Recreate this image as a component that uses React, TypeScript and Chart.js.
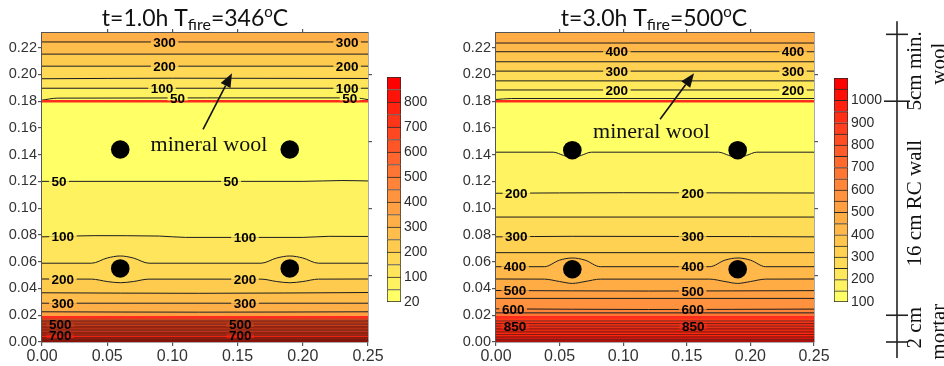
import React, { useEffect, useRef } from 'react';
import { Chart, registerables } from 'chart.js';

Chart.register(...registerables);

const SANS = '"Liberation Sans", Arial, sans-serif';
const SERIF = '"Liberation Serif", "Times New Roman", serif';
const TITLE_FONT = 'Lato, "Open Sans", sans-serif';

// ---------- axes ----------
const X_MAX = 0.25;
const Y_MAX = 0.231;
const xTicks = [0, 0.05, 0.1, 0.15, 0.2, 0.25];
const yTicks = [0, 0.02, 0.04, 0.06, 0.08, 0.1, 0.12, 0.14, 0.16, 0.18, 0.2, 0.22];
const sideTicksX = [0.05, 0.1, 0.15, 0.2];
const sideTicksY = [0.05, 0.1, 0.15, 0.2];

// ---------- rebars ----------
const rebarX = [0.06, 0.19, 0.06, 0.19];
const leftRebarY = [0.1439, 0.1439, 0.055, 0.055];
const rightRebarY = [0.1434, 0.1434, 0.0544, 0.0544];

// ---------- colour bars ----------
const leftCbLevels = [20, 50, 100, 150, 200, 250, 300, 350, 400, 450, 500, 550, 600, 650, 700, 750, 800, 850, 900];
const leftCbTicks = [20, 100, 200, 300, 400, 500, 600, 700, 800];
const rightCbLevels = [100, 150, 200, 250, 300, 350, 400, 450, 500, 550, 600, 650, 700, 750, 800, 850, 900, 950, 1000, 1050, 1100];
const rightCbTicks = [100, 200, 300, 400, 500, 600, 700, 800, 900, 1000];

// ---------- left panel (t = 1.0 h) contours, bottom -> top ----------
const leftLevels = [800, 750, 700, 650, 600, 550, 500, 450, 400, 350, 300, 250, 200, 150, 100, 50, 0, 50, 100, 150, 200, 250, 300];
const leftKinds = 'mmmmmmmmrcccccccrcccccc';
const leftLines: number[][][] = [
  [[0, 0.0018], [0.25, 0.0018]],
  [[0, 0.0033], [0.25, 0.0033]],
  [[0, 0.005], [0.25, 0.005]],
  [[0, 0.0068], [0.25, 0.0068]],
  [[0, 0.0088], [0.25, 0.0088]],
  [[0, 0.0113], [0.25, 0.0113]],
  [[0, 0.0133], [0.25, 0.0133]],
  [[0, 0.0158], [0.25, 0.0158]],
  [[0, 0.0185], [0.25, 0.0185]],
  [[0, 0.0226], [0.12, 0.0223], [0.25, 0.0226]],
  [[0, 0.029], [0.25, 0.029]],
  [[0, 0.0368], [0.12, 0.0364], [0.25, 0.037]],
  [[0, 0.0471], [0.038, 0.047], [0.05, 0.0452], [0.06, 0.0443], [0.07, 0.0452], [0.082, 0.047], [0.168, 0.047], [0.18, 0.0452], [0.19, 0.0443], [0.2, 0.0452], [0.212, 0.047], [0.25, 0.0471]],
  [[0, 0.0589], [0.038, 0.0589], [0.05, 0.0628], [0.06, 0.0643], [0.07, 0.0628], [0.082, 0.0589], [0.168, 0.0589], [0.18, 0.0628], [0.19, 0.0643], [0.2, 0.0628], [0.212, 0.0589], [0.25, 0.0589]],
  [[0, 0.0786], [0.04, 0.0795], [0.09, 0.0792], [0.11, 0.0782], [0.2, 0.0782], [0.22, 0.079], [0.25, 0.0789]],
  [[0, 0.1201], [0.2, 0.1201], [0.23, 0.1207], [0.25, 0.1204]],
  [[0, 0.18], [0.25, 0.18]],
  [[0, 0.1808], [0.012, 0.1823], [0.24, 0.1825], [0.25, 0.1812]],
  [[0, 0.1897], [0.25, 0.1897]],
  [[0, 0.1968], [0.1, 0.1972], [0.25, 0.197]],
  [[0, 0.2062], [0.25, 0.2062]],
  [[0, 0.2152], [0.25, 0.2152]],
  [[0, 0.2243], [0.25, 0.2243]],
];
const leftLabelX: (number[] | null)[] = [
  null, null, [0.014, 0.152], null, null, null, [0.014, 0.152], null, null, null,
  [0.016, 0.1557], null, [0.016, 0.1557], null, [0.016, 0.1557], [0.013, 0.145], null,
  [0.104, 0.236], [0.092, 0.234], null, [0.094, 0.234], null, [0.094, 0.234],
];
const leftBandT = [825, 775, 725, 675, 625, 575, 525, 475, 425, 375, 325, 275, 225, 175, 125, 75, 35, 35, 75, 125, 175, 225, 275, 325];
const leftMortarFill = ['#8a1208', '#9a1a0c', '#f0240e', '#a92a14', '#bc3218', '#ad3016', '#c23c1c', '#b33818', '#c9481e'];

// ---------- right panel (t = 3.0 h) contours, bottom -> top ----------
const rightLevels = [1100, 1050, 1000, 950, 900, 850, 800, 750, 700, 650, 600, 550, 500, 450, 400, 350, 300, 250, 200, 150, 0, 150, 200, 250, 300, 350, 400, 450];
const rightKinds = 'mmmmmmmmrcccccccccccrccccccc';
const rightLines: number[][][] = [
  [[0, 0.0018], [0.25, 0.0018]],
  [[0, 0.0038], [0.25, 0.0038]],
  [[0, 0.0056], [0.25, 0.0056]],
  [[0, 0.0075], [0.25, 0.0075]],
  [[0, 0.0098], [0.25, 0.0098]],
  [[0, 0.0118], [0.25, 0.0118]],
  [[0, 0.0138], [0.25, 0.0138]],
  [[0, 0.0158], [0.25, 0.0158]],
  [[0, 0.0185], [0.25, 0.0185]],
  [[0, 0.0218], [0.25, 0.0218]],
  [[0, 0.0248], [0.12, 0.0243], [0.25, 0.0246]],
  [[0, 0.0326], [0.25, 0.0326]],
  [[0, 0.0385], [0.12, 0.0381], [0.25, 0.0384]],
  [[0, 0.0471], [0.038, 0.047], [0.05, 0.0452], [0.06, 0.0438], [0.07, 0.0452], [0.082, 0.047], [0.168, 0.047], [0.18, 0.0452], [0.19, 0.0438], [0.2, 0.0452], [0.212, 0.047], [0.25, 0.0471]],
  [[0, 0.0563], [0.038, 0.0563], [0.05, 0.0612], [0.06, 0.0628], [0.07, 0.0612], [0.082, 0.0563], [0.168, 0.0563], [0.18, 0.0612], [0.19, 0.0628], [0.2, 0.0612], [0.212, 0.0563], [0.25, 0.0563]],
  [[0, 0.0668], [0.25, 0.0668]],
  [[0, 0.0786], [0.06, 0.079], [0.2, 0.0788], [0.25, 0.0786]],
  [[0, 0.0934], [0.25, 0.0934]],
  [[0, 0.1112], [0.1, 0.1116], [0.25, 0.1114]],
  [[0, 0.1419], [0.045, 0.1419], [0.053, 0.1395], [0.06, 0.1377], [0.067, 0.1395], [0.075, 0.1419], [0.175, 0.1419], [0.183, 0.1395], [0.19, 0.1377], [0.197, 0.1395], [0.205, 0.1419], [0.25, 0.1419]],
  [[0, 0.18], [0.25, 0.18]],
  [[0, 0.1813], [0.012, 0.182], [0.25, 0.182]],
  [[0, 0.1884], [0.25, 0.1884]],
  [[0, 0.1952], [0.25, 0.1952]],
  [[0, 0.2025], [0.25, 0.2025]],
  [[0, 0.2095], [0.25, 0.2095]],
  [[0, 0.217], [0.25, 0.217]],
  [[0, 0.2235], [0.25, 0.2235]],
];
const rightLabelX: (number[] | null)[] = [
  null, null, null, null, null, [0.015, 0.155], null, null, null, null,
  [0.0135, 0.1546], null, [0.015, 0.1546], null, [0.015, 0.1546], null, [0.016, 0.1546], null, [0.016, 0.1546], null, null,
  null, [0.095, 0.2335], null, [0.095, 0.2335], null, [0.095, 0.2335], null,
];
const rightBandT = [1125, 1075, 1025, 975, 925, 875, 825, 775, 725, 675, 625, 575, 525, 475, 425, 375, 325, 275, 225, 175, 125, 125, 175, 225, 275, 325, 375, 425, 475];
const rightMortarFill = ['#b01010', '#d41810', '#ff2410', '#f82a12', '#e42814', '#f02c16', '#ea3018', '#f53418', '#ff3c16'];

// ---------- side schematic ----------
const layerBounds = [0, 0.02, 0.18, 0.23];
const layerText1 = ['5cm min.', '16 cm RC wall', '2 cm'];
const layerText1Y = [0.2027, 0.1038, 0.0107];
const layerText2 = ['wool', 'mortar'];
const layerText2Y = [0.208, 0.0077];

type Note = { text: string; x: number; y: number; tail: number[]; tip: number[] };
type Panel = {
  levels: number[]; kinds: string; lines: number[][][]; labelX: (number[] | null)[];
  bandT: number[]; mortarFill: string[]; cbLevels: number[]; rebarY: number[];
  title: string[]; note: Note; schematic: boolean;
};

const leftPanel: Panel = {
  levels: leftLevels, kinds: leftKinds, lines: leftLines, labelX: leftLabelX,
  bandT: leftBandT, mortarFill: leftMortarFill, cbLevels: leftCbLevels, rebarY: leftRebarY,
  title: ['t=1.0h T', '=346'],
  note: { text: 'mineral wool', x: 0.128, y: 0.1426, tail: [0.1235, 0.159], tip: [0.1457, 0.201] },
  schematic: false,
};
const rightPanel: Panel = {
  levels: rightLevels, kinds: rightKinds, lines: rightLines, labelX: rightLabelX,
  bandT: rightBandT, mortarFill: rightMortarFill, cbLevels: rightCbLevels, rebarY: rightRebarY,
  title: ['t=3.0h T', '=500'],
  note: { text: 'mineral wool', x: 0.1222, y: 0.1527, tail: [0.129, 0.1665], tip: [0.1557, 0.201] },
  schematic: true,
};

// ---------- colour map ----------
const STOPS = [
  [0, 255, 255, 102],
  [0.25, 255, 200, 78],
  [0.5, 255, 140, 60],
  [0.75, 255, 75, 35],
  [1, 255, 0, 0],
];
function cmap(f: number): string {
  for (let i = 0; i < STOPS.length - 1; i++) {
    const a = STOPS[i], b = STOPS[i + 1];
    if (f <= b[0]) {
      const t = (f - a[0]) / (b[0] - a[0]);
      const c = [1, 2, 3].map((j) => Math.round(a[j] + (b[j] - a[j]) * t));
      return `rgb(${c[0]},${c[1]},${c[2]})`;
    }
  }
  return 'rgb(255,0,0)';
}
function bandColor(t: number, levels: number[]): string {
  const n = levels.length - 1;
  let i = 0;
  while (i < n - 1 && t >= levels[i + 1]) i++;
  return cmap(i / (n - 1));
}

function axis(pos: string, ticks: number[], size: number, showLabels: boolean, fontSize: number, max: number): any {
  return {
    type: 'linear', position: pos, min: 0, max,
    afterBuildTicks: (s: any) => { s.ticks = ticks.map((v) => ({ value: v })); },
    afterFit: (s: any) => { if (pos === 'left' || pos === 'right') s.width = size; else s.height = size; },
    ticks: {
      display: showLabels, autoSkip: false, maxRotation: 0, minRotation: 0, padding: 1, color: '#333',
      font: { family: SANS, size: fontSize },
      callback: (v: any) => Number(v).toFixed(2),
    },
    grid: { display: true, drawOnChartArea: false, drawTicks: true, tickLength: 4, tickColor: '#555', color: '#555', lineWidth: 1.2 },
    border: { display: true, color: '#555', width: 1.5 },
  };
}

function mainConfig(p: Panel, padRight: number, yWidth: number, titleX: number): any {
  const bandColors = p.bandT.map((t, k) => (k < p.mortarFill.length ? p.mortarFill[k] : bandColor(t, p.cbLevels)));
  const datasets: any[] = [
    { data: [{ x: 0, y: 0 }, { x: X_MAX, y: 0 }], borderWidth: 0, pointRadius: 0, fill: false },
  ];
  p.lines.forEach((pts, k) => {
    const kind = p.kinds[k];
    datasets.push({
      data: pts.map(([x, y]) => ({ x, y })),
      borderColor: kind === 'r' ? '#ff2b1c' : kind === 'm' ? 'rgba(105,18,8,0.85)' : '#1b1b1b',
      borderWidth: kind === 'r' ? 2.5 : 1,
      pointRadius: 0,
      cubicInterpolationMode: 'monotone',
      fill: '-1',
      backgroundColor: bandColors[k],
    });
  });
  datasets.push({
    data: [{ x: 0, y: Y_MAX }, { x: X_MAX, y: Y_MAX }], borderWidth: 0, pointRadius: 0,
    fill: '-1', backgroundColor: bandColors[p.lines.length],
  });
  datasets.push({
    data: rebarX.map((x, i) => ({ x, y: p.rebarY[i] })), showLine: false, pointRadius: 9.3,
    pointBackgroundColor: '#000', pointBorderWidth: 0, fill: false, order: -1,
  });

  const labelPlugin = {
    id: 'contourLabels',
    afterDatasetsDraw(chart: any) {
      const ctx = chart.ctx;
      const xs = chart.scales.x;
      ctx.save();
      ctx.font = `bold 13.5px ${SANS}`;
      ctx.textAlign = 'center';
      ctx.textBaseline = 'middle';
      p.labelX.forEach((arr, k) => {
        if (!arr) return;
        const pts = chart.getDatasetMeta(k + 1).data;
        arr.forEach((xv) => {
          const px = xs.getPixelForValue(xv);
          let py = pts[0].y;
          for (let i = 0; i < pts.length - 1; i++) {
            if (px >= pts[i].x && px <= pts[i + 1].x) {
              const t = (px - pts[i].x) / (pts[i + 1].x - pts[i].x || 1);
              py = pts[i].y + t * (pts[i + 1].y - pts[i].y);
              break;
            }
          }
          const text = String(p.levels[k]);
          const w = ctx.measureText(text).width + 5;
          ctx.fillStyle = bandColors[k + 1];
          ctx.fillRect(px - w / 2, py - 2.5, w, 2.5);
          ctx.fillStyle = bandColors[k];
          ctx.fillRect(px - w / 2, py, w, 2.5);
          ctx.fillStyle = '#000';
          ctx.fillText(text, px, py + 1);
        });
      });
      ctx.restore();
    },
  };

  const notePlugin = {
    id: 'notes',
    afterDraw(chart: any) {
      const { ctx } = chart;
      const xs = chart.scales.x, ys = chart.scales.y;
      const n = p.note;
      ctx.save();
      // title
      const segs = [
        { t: p.title[0], font: `23px ${TITLE_FONT}`, dy: 0 },
        { t: 'fire', font: `16px ${TITLE_FONT}`, dy: 4 },
        { t: p.title[1], font: `23px ${TITLE_FONT}`, dy: 0 },
        { t: 'o', font: `15px ${TITLE_FONT}`, dy: -9 },
        { t: 'C', font: `23px ${TITLE_FONT}`, dy: 0 },
      ];
      let total = 0;
      const widths = segs.map((s) => { ctx.font = s.font; const w = ctx.measureText(s.t).width; total += w; return w; });
      let cx = titleX - total / 2;
      ctx.fillStyle = '#111';
      ctx.textAlign = 'left';
      ctx.textBaseline = 'alphabetic';
      segs.forEach((s, i) => { ctx.font = s.font; ctx.fillText(s.t, cx, 26 + s.dy); cx += widths[i]; });

      // mineral wool note + arrow
      ctx.font = `22px ${SERIF}`;
      ctx.textAlign = 'center';
      ctx.fillText(n.text, xs.getPixelForValue(n.x), ys.getPixelForValue(n.y));
      const x0 = xs.getPixelForValue(n.tail[0]), y0 = ys.getPixelForValue(n.tail[1]);
      const x1 = xs.getPixelForValue(n.tip[0]), y1 = ys.getPixelForValue(n.tip[1]);
      const ang = Math.atan2(y1 - y0, x1 - x0);
      const L = 14, H = 5.5;
      const bx = x1 - L * Math.cos(ang), by = y1 - L * Math.sin(ang);
      ctx.strokeStyle = '#111';
      ctx.lineWidth = 1.6;
      ctx.beginPath(); ctx.moveTo(x0, y0); ctx.lineTo(bx, by); ctx.stroke();
      ctx.beginPath();
      ctx.moveTo(x1, y1);
      ctx.lineTo(bx + H * Math.sin(ang), by - H * Math.cos(ang));
      ctx.lineTo(bx - H * Math.sin(ang), by + H * Math.cos(ang));
      ctx.closePath(); ctx.fill();

      // side schematic
      if (p.schematic) {
        const lx = chart.chartArea.right + 83;
        ctx.strokeStyle = '#222';
        ctx.lineWidth = 1.6;
        ctx.beginPath();
        ctx.moveTo(lx, ys.getPixelForValue(0.23) - 13);
        ctx.lineTo(lx, ys.getPixelForValue(0) + 16);
        ctx.stroke();
        layerBounds.forEach((v) => {
          const py = ys.getPixelForValue(v);
          const ext = v === 0.18 ? 13 : 11;
          ctx.beginPath(); ctx.moveTo(lx - ext, py); ctx.lineTo(lx + ext, py); ctx.stroke();
        });
        ctx.font = `21px ${SERIF}`;
        ctx.fillStyle = '#111';
        ctx.textAlign = 'center';
        ctx.textBaseline = 'alphabetic';
        const drawRot = (t: string, bx2: number, v: number) => {
          ctx.save();
          ctx.translate(bx2, ys.getPixelForValue(v));
          ctx.rotate(-Math.PI / 2);
          ctx.fillText(t, 0, 0);
          ctx.restore();
        };
        layerText1.forEach((t, i) => drawRot(t, lx + 24, layerText1Y[i]));
        layerText2.forEach((t, i) => drawRot(t, lx + 48, layerText2Y[i]));
      }
      ctx.restore();
    },
  };

  return {
    type: 'line',
    data: { datasets },
    options: {
      animation: false,
      responsive: false,
      maintainAspectRatio: false,
      events: [],
      layout: { padding: { left: 0, top: 33, right: padRight, bottom: 0 } },
      plugins: { legend: { display: false }, tooltip: { enabled: false }, title: { display: false } },
      scales: {
        x: axis('bottom', xTicks, 24, true, 16, X_MAX),
        x2: axis('top', sideTicksX, 0, false, 16, X_MAX),
        y: axis('left', yTicks, yWidth, true, 14.5, Y_MAX),
        y2: axis('right', sideTicksY, 0, false, 14, Y_MAX),
      },
    },
    plugins: [labelPlugin, notePlugin],
  };
}

function cbConfig(levels: number[], tickLevels: number[], padLeft: number, top: number, bottom: number, yWidth: number): any {
  const n = levels.length - 1;
  const datasets = levels.slice(0, n).map((lv, i) => ({
    label: String(lv),
    data: [1],
    backgroundColor: cmap(i / (n - 1)),
    borderColor: '#2a2a2a',
    borderWidth: { top: 1, left: 1, right: 1, bottom: i === 0 ? 1 : 0 },
    borderSkipped: false,
    barPercentage: 1,
    categoryPercentage: 1,
    stack: 'cb',
  }));
  return {
    type: 'bar',
    data: { labels: ['cb'], datasets },
    options: {
      animation: false,
      responsive: false,
      maintainAspectRatio: false,
      events: [],
      layout: { padding: { left: padLeft, top, bottom: 366 - bottom, right: 0 } },
      plugins: { legend: { display: false }, tooltip: { enabled: false } },
      scales: {
        x: { display: false, stacked: true },
        y: {
          stacked: true, min: 0, max: n, position: 'right',
          afterBuildTicks: (s: any) => { s.ticks = tickLevels.map((l) => ({ value: levels.indexOf(l) })); },
          afterFit: (s: any) => { s.width = yWidth; },
          grid: { display: false, drawTicks: false },
          border: { display: false },
          ticks: {
            autoSkip: false, padding: 3, color: '#2b2b2b',
            font: { family: SANS, size: 14 },
            callback: (v: any) => String(levels[v]),
          },
        },
      },
    },
  };
}

function ChartCanvas({ config, left, width }: { config: () => any; left: number; width: number }) {
  const ref = useRef<HTMLCanvasElement>(null);
  useEffect(() => {
    const chart = new Chart(ref.current as HTMLCanvasElement, config());
    return () => chart.destroy();
  }, []);
  return (
    <canvas
      ref={ref}
      width={width}
      height={366}
      style={{ position: 'absolute', left, top: 0, width, height: 366 }}
    />
  );
}

export default function App() {
  return (
    <div style={{ position: 'fixed', left: 0, top: 0, width: 944, height: 366, background: '#fff', overflow: 'hidden' }}>
      <ChartCanvas left={0} width={470} config={() => mainConfig(leftPanel, 102, 42, 195)} />
      <ChartCanvas left={380} width={60} config={() => cbConfig(leftCbLevels, leftCbTicks, 7, 77, 302, 39)} />
      <ChartCanvas left={448} width={496} config={() => mainConfig(rightPanel, 130, 48, 206)} />
      <ChartCanvas left={825} width={60} config={() => cbConfig(rightCbLevels, rightCbTicks, 9, 78, 302, 37)} />
    </div>
  );
}
